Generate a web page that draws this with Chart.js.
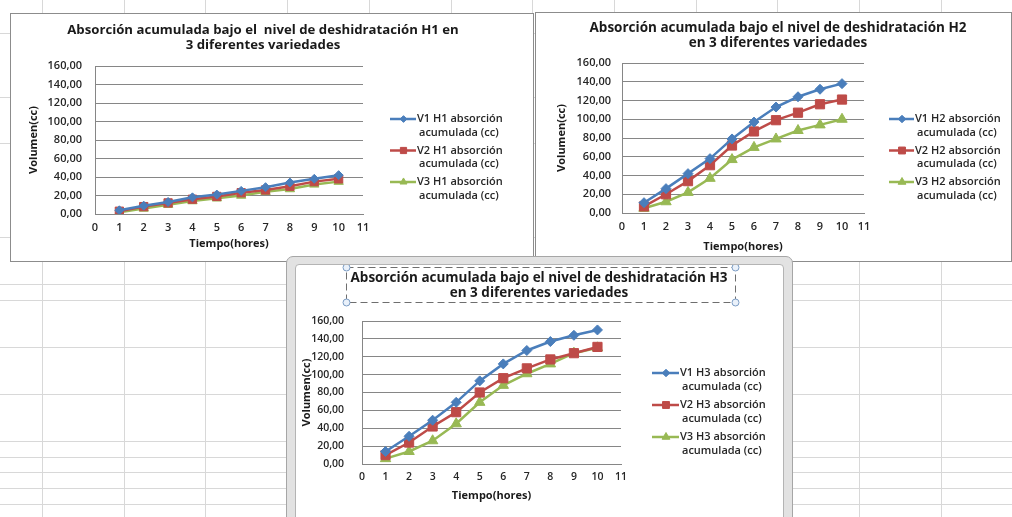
<!DOCTYPE html>
<html>
<head>
<meta charset="utf-8">
<script src="https://cdn.jsdelivr.net/npm/chart.js@4/dist/chart.umd.min.js"></script>
<style>
  body { margin: 0; width: 1012px; height: 517px; overflow: hidden; background: #fff; position: relative; }
  .gl { position: absolute; background: #d8d8d8; }
  .box { position: absolute; background: #fff; border: 1px solid #8c8c8c; }
  .sel { position: absolute; background: #e2e2e2; border: 1px solid #a6a6a6; border-radius: 7px; }
  canvas { position: absolute; }
</style>
</head>
<body>
<div class="box" style="left:10px;top:13px;width:522px;height:247px"></div>
<canvas id="c1" width="522" height="247" style="left:11px;top:14px"></canvas>
<div class="box" style="left:535px;top:12px;width:475px;height:248px"></div>
<canvas id="c2" width="475" height="248" style="left:536px;top:13px"></canvas>
<div class="sel" style="left:286px;top:256px;width:505px;height:290px"></div>
<div class="box" style="left:295px;top:264px;width:487px;height:270px;border-color:#b4b4b4;border-radius:4px"></div>
<canvas id="c3" width="487" height="252" style="left:296px;top:265px"></canvas>
<script>
// data
var hours = [1, 2, 3, 4, 5, 6, 7, 8, 9, 10];
var h1v1 = [4, 9, 13, 18, 21, 25, 29, 34, 38, 42];
var h1v2 = [3, 8, 12, 16, 19, 23, 26, 30, 35, 38];
var h1v3 = [2, 6, 10, 14, 17, 20, 24, 27, 32, 35];
var h2v1 = [11, 26, 42, 58, 79, 97, 113, 124, 132, 138];
var h2v2 = [7, 20, 34, 51, 72, 87, 99, 107, 116, 121];
var h2v3 = [5, 12, 22, 37, 57, 70, 79, 88, 94, 100];
var h3v1 = [14, 31, 49, 69, 93, 112, 127, 137, 144, 150];
var h3v2 = [10, 24, 42, 58, 80, 96, 107, 117, 124, 131];
var h3v3 = [6, 14, 26, 45, 69, 88, 101, 112, 124, 130];
var varieties = ["V1", "V2", "V3"];
var xMin = 0, xMax = 11;
var yMin = 0, yMax = 160, yStep = 20;

// spreadsheet grid behind the charts
var rowLines = [33, 97, 143, 237, 284, 300, 347, 394, 441, 457, 472, 488, 504];
for (var r = 0; r < rowLines.length; r++) {
  var d = document.createElement("div");
  d.className = "gl";
  d.style.cssText = "left:0;top:" + rowLines[r] + "px;width:1012px;height:1px";
  document.body.insertBefore(d, document.body.firstChild);
}
for (var c = 0; c < 12; c++) {
  var v = document.createElement("div");
  v.className = "gl";
  v.style.cssText = "top:0;left:" + Math.round(42 + c * 81.7) + "px;width:1px;height:517px";
  document.body.insertBefore(v, document.body.firstChild);
}

var colors = ["#4a7ebb", "#be4b48", "#98b954"];
var markers = ["rectRot", "rect", "triangle"];
var markerSize = [5, 6.5, 6];
var FONT = "'Open Sans', 'DejaVu Sans', sans-serif";

var excelDecor = {
  id: "excelDecor",
  afterDraw: function (chart, args, o) {
    var ctx = chart.ctx;
    ctx.save();
    ctx.fillStyle = "#1a1a1a";
    ctx.textAlign = "center";
    ctx.textBaseline = "middle";
    ctx.font = "bold " + o.titleSize + "px " + FONT;
    o.title.forEach(function (line, i) {
      ctx.fillText(line, o.titleX, o.titleY + i * 15);
    });
    if (o.titleBox) {
      var b = o.titleBox;
      ctx.strokeStyle = "#6e6e6e";
      ctx.lineWidth = 1;
      ctx.setLineDash([7, 4]);
      ctx.strokeRect(b[0] + 0.5, b[1] + 0.5, b[2] - b[0], b[3] - b[1]);
      ctx.setLineDash([]);
      [[b[0], b[1]], [b[2], b[1]], [b[0], b[3]], [b[2], b[3]]].forEach(function (p) {
        ctx.beginPath();
        ctx.arc(p[0] + 0.5, p[1] + 0.5, 3.5, 0, Math.PI * 2);
        ctx.fillStyle = "#eaf1fa";
        ctx.fill();
        ctx.strokeStyle = "#7b9cc4";
        ctx.stroke();
      });
    }
    // two-line legend entries on the right
    ctx.textAlign = "left";
    chart.data.datasets.forEach(function (ds, i) {
      var y = o.legendY + i * o.legendGap;
      ctx.strokeStyle = ds.borderColor;
      ctx.fillStyle = ds.backgroundColor;
      ctx.lineWidth = 2.5;
      ctx.beginPath();
      ctx.moveTo(o.legendX, y);
      ctx.lineTo(o.legendTextX - 1, y);
      ctx.stroke();
      ctx.lineWidth = 1;
      Chart.helpers.drawPoint(ctx, { pointStyle: ds.pointStyle, radius: ds.pointRadius * 0.75, borderWidth: 1, rotation: 0 },
        (o.legendX + o.legendTextX) / 2, y);
      ctx.fillStyle = "#262626";
      ctx.font = "600 " + o.legendSize + "px " + FONT;
      var parts = ds.label.split("\n");
      ctx.fillText(parts[0], o.legendTextX, y);
      ctx.fillText(parts[1], o.legendTextX + 2, y + 13.5);
    });
    ctx.restore();
  }
};

function makeChart(id, level, series, L) {
  var datasets = series.map(function (vals, i) {
    return {
      label: varieties[i] + " " + level + " absorción\nacumulada (cc)",
      data: hours.map(function (h, k) { return { x: h, y: vals[k] }; }),
      borderColor: colors[i],
      backgroundColor: colors[i],
      borderWidth: 2.5,
      pointStyle: markers[i],
      pointRadius: markerSize[i] * L.mk,
      pointBorderWidth: 1,
      showLine: true,
      tension: 0
    };
  });
  var tickFont = { family: FONT, size: L.tick, weight: "600" };
  var titleFont = { family: FONT, size: 11, weight: "bold" };
  return new Chart(document.getElementById(id), {
    type: "scatter",
    data: { datasets: datasets },
    plugins: [excelDecor],
    options: {
      responsive: false,
      animation: false,
      events: [],
      layout: { padding: { left: 0, top: L.top, right: L.right, bottom: 0 } },
      plugins: {
        legend: { display: false },
        tooltip: { enabled: false },
        excelDecor: L.decor
      },
      scales: {
        x: {
          type: "linear", min: xMin, max: xMax,
          ticks: { stepSize: 1, padding: L.xPad, color: "#262626", font: tickFont },
          grid: { display: false, drawTicks: false },
          border: { color: "#868686" },
          title: { display: true, text: "Tiempo(hores)", color: "#1a1a1a", font: titleFont, padding: { top: 0, bottom: L.xTitlePad } },
          afterFit: function (s) { s.height = L.xH; }
        },
        y: {
          min: yMin, max: yMax,
          ticks: {
            stepSize: yStep, padding: L.yPad, color: "#262626", font: tickFont,
            callback: function (v) { return v.toFixed(2).replace(".", ","); }
          },
          grid: { color: "#868686", drawTicks: false },
          border: { color: "#868686" },
          title: { display: true, text: "Volumen(cc)", color: "#1a1a1a", font: titleFont, padding: { top: L.yTitlePad, bottom: 0 } },
          afterFit: function (s) { s.width = L.yW; }
        }
      }
    }
  });
}

makeChart("c1", "H1", [h1v1, h1v2, h1v3], {
  top: 52, right: 170, yW: 84, xH: 47, yPad: 13, xPad: 7, xTitlePad: 11, yTitlePad: 16, tick: 11, mk: 0.9,
  decor: { title: ["Absorción acumulada bajo el  nivel de deshidratación H1 en", "3 diferentes variedades"],
    titleSize: 13.2, titleX: 252, titleY: 16, legendX: 379, legendTextX: 406, legendY: 105, legendGap: 31.5, legendSize: 11 }
});
makeChart("c2", "H2", [h2v1, h2v2, h2v3], {
  top: 50, right: 147, yW: 86, xH: 48, yPad: 11, xPad: 7, xTitlePad: 7.4, yTitlePad: 19.4, tick: 11, mk: 1,
  decor: { title: ["Absorción acumulada bajo el nivel de deshidratación H2", "en 3 diferentes variedades"],
    titleSize: 13.5, titleX: 242, titleY: 15, legendX: 353, legendTextX: 379, legendY: 106, legendGap: 31.5, legendSize: 11 }
});
makeChart("c3", "H3", [h3v1, h3v2, h3v3], {
  top: 56, right: 162, yW: 66, xH: 53, yPad: 18, xPad: 7, xTitlePad: 14.4, yTitlePad: 4.4, tick: 10.5, mk: 1,
  decor: { title: ["Absorción acumulada bajo el nivel de deshidratación H3", "en 3 diferentes variedades"],
    titleSize: 13.5, titleX: 243, titleY: 13, titleBox: [50, 2, 439, 37],
    legendX: 356, legendTextX: 384, legendY: 108, legendGap: 32, legendSize: 11 }
});
</script>
</body>
</html>
